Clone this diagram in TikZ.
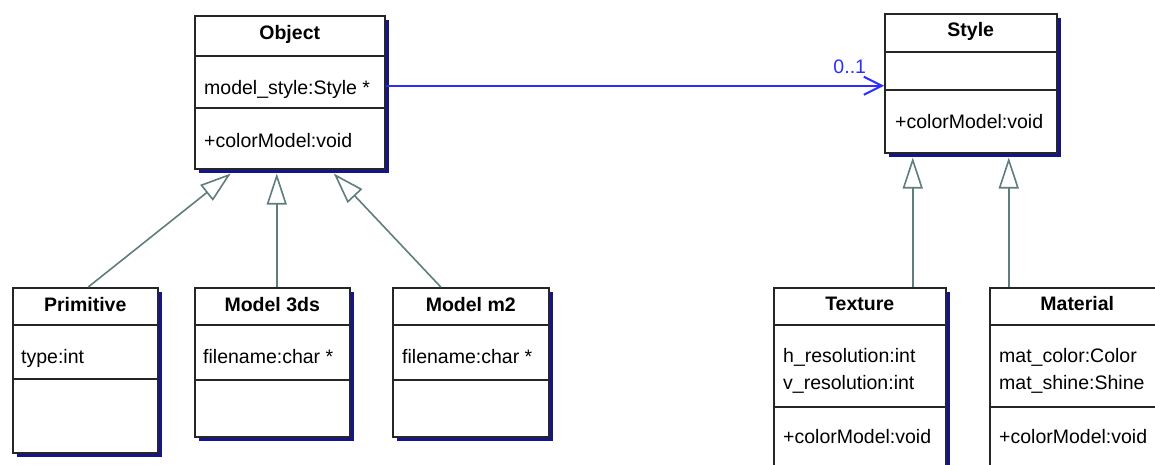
\documentclass[tikz,border=0pt]{standalone}
\usepackage{fontspec}
\setmainfont{Liberation Sans}
\usetikzlibrary{arrows.meta,shadows,calc}
\definecolor{umlshadow}{RGB}{20,20,140}
\definecolor{umlline}{RGB}{95,125,125}
\definecolor{umlblue}{RGB}{45,45,255}
\newcommand{\umlfont}{\fontsize{19.5}{23}\selectfont}
\tikzset{
  classbox/.style={draw=black!85, line width=1.5pt, fill=white, anchor=north west, inner sep=0pt,
    general shadow={fill=umlshadow, shadow xshift=4pt, shadow yshift=-4pt}},
  classrule/.style={draw=black!85, line width=1.5pt},
  title/.style={font=\umlfont\bfseries, anchor=base, inner sep=0pt},
  member/.style={anchor=base west, inner sep=0pt},
  inherit/.style={draw=umlline, line width=1.6pt, -{Triangle[open, length=31pt, width=20pt]}},
  assoc/.style={draw=umlblue, line width=2pt, -{Straight Barb[length=18pt, width=18pt]}},
}
% class box: name, top left corner, width, height, first and second rule below the top
\newcommand{\umlclass}[6]{%
  \node[classbox, minimum width=#3pt, minimum height=#4pt] (#1) at #2 {};
  \draw[classrule] ([yshift=-#5pt]#1.north west) -- ([yshift=-#5pt]#1.north east);
  \draw[classrule] ([yshift=-#6pt]#1.north west) -- ([yshift=-#6pt]#1.north east);
}
\begin{document}
\begin{tikzpicture}[x=1pt, y=-1pt, font=\umlfont]
  \useasboundingbox (0,0) rectangle (1155,464);
  \clip (0,0) rectangle (1155,464);

  % upper classes
  \umlclass{obj}{(194,15)}{190}{153}{41}{93}
  \node[title] (objt) at ([yshift=-24pt]obj.north) {Object};
  \node[member] (obja) at ([xshift=10pt,yshift=-79pt]obj.north west) {model\_style:Style *};
  \node[member] (objo) at ([xshift=10pt,yshift=-132pt]obj.north west) {+colorModel:void};

  \umlclass{sty}{(884,13)}{172}{139}{39}{77}
  \node[title] (styt) at ([yshift=-23pt]sty.north) {Style};
  \node[member] (styo) at ([xshift=11pt,yshift=-115pt]sty.north west) {+colorModel:void};

  % subclasses of Object
  \umlclass{prim}{(12,287)}{145}{165}{38}{92}
  \node[title] (primt) at ([yshift=-24pt]prim.north) {Primitive};
  \node[member] (prima) at ([xshift=9pt,yshift=-76pt]prim.north west) {type:int};

  \umlclass{mtds}{(194,287)}{155}{149}{38}{93}
  \node[title] (mtdst) at ([yshift=-24pt]mtds.north) {Model 3ds};
  \node[member] (mtdsa) at ([xshift=9pt,yshift=-76pt]mtds.north west) {filename:char *};

  \umlclass{mmtwo}{(392,287)}{156}{149}{38}{93}
  \node[title] (mmtwot) at ([yshift=-24pt]mmtwo.north) {Model m2};
  \node[member] (mmtwoa) at ([xshift=10pt,yshift=-76pt]mmtwo.north west) {filename:char *};

  % subclasses of Style
  \umlclass{tex}{(773,287)}{172}{200}{38}{120}
  \node[title] (text) at ([yshift=-23pt]tex.north) {Texture};
  \node[member] (texa) at ([xshift=10pt,yshift=-75pt]tex.north west) {h\_resolution:int};
  \node[member] (texb) at ([xshift=10pt,yshift=-102pt]tex.north west) {v\_resolution:int};
  \node[member] (texo) at ([xshift=10pt,yshift=-156pt]tex.north west) {+colorModel:void};

  \umlclass{mat}{(989,287)}{175}{200}{38}{120}
  \node[title] (matt) at ([yshift=-23pt]mat.north) {Material};
  \node[member] (mata) at ([xshift=10pt,yshift=-75pt]mat.north west) {mat\_color:Color};
  \node[member] (matb) at ([xshift=10pt,yshift=-102pt]mat.north west) {mat\_shine:Shine};
  \node[member] (mato) at ([xshift=10pt,yshift=-156pt]mat.north west) {+colorModel:void};

  % generalisations
  \coordinate (objin1) at ([xshift=-59pt,yshift=-4pt]obj.south);
  \coordinate (objin2) at ([xshift=-13pt,yshift=-4pt]obj.south);
  \coordinate (objin3) at ([xshift=44pt,yshift=-4pt]obj.south);
  \draw[inherit] ([xshift=3pt]prim.north) -- (objin1);
  \draw[inherit] (mtds.north -| objin2) -- (objin2);
  \draw[inherit] ([xshift=-30pt]mmtwo.north) -- (objin3);

  \coordinate (styin1) at ([xshift=-58pt,yshift=-4pt]sty.south);
  \coordinate (styin2) at ([xshift=38pt,yshift=-4pt]sty.south);
  \draw[inherit] (tex.north -| styin1) -- (styin1);
  \draw[inherit] (mat.north -| styin2) -- (styin2);

  % association
  \draw[assoc] ([yshift=6.5pt]obj.east) -- ([yshift=6.5pt]obj.east -| sty.west)
    node[pos=1, anchor=base east, xshift=-17pt, yshift=12pt, text=umlblue, inner sep=0pt] (mult) {0..1};
\end{tikzpicture}
\end{document}
